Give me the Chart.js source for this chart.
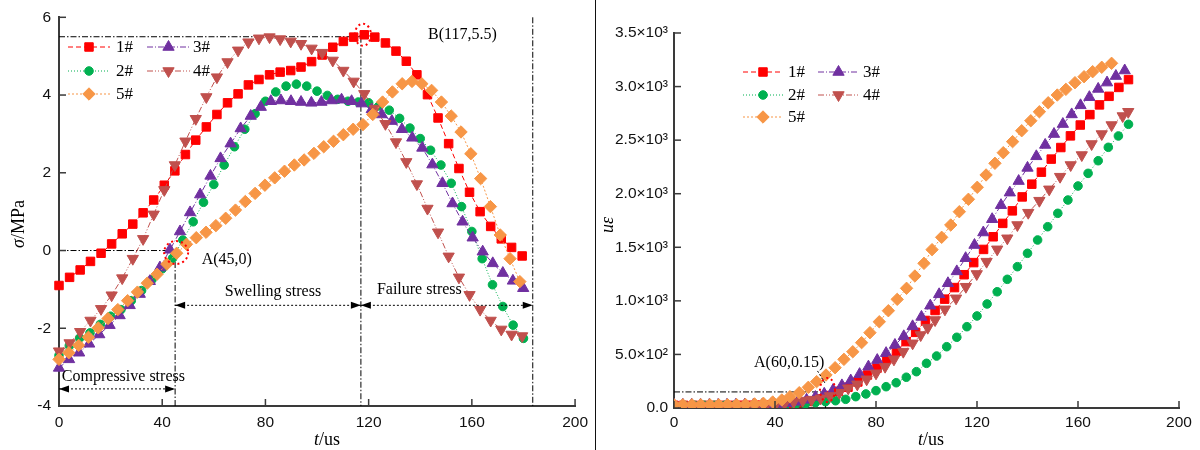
<!DOCTYPE html>
<html>
<head>
<meta charset="utf-8">
<script src="https://cdn.jsdelivr.net/npm/chart.js@4.4.1/dist/chart.umd.min.js"></script>
<style>
  html, body { margin: 0; padding: 0; background: #fff; }
  #wrap { position: relative; width: 1200px; height: 450px; overflow: hidden; }
  #stressChart { position: absolute; left: 0; top: 0; }
  #strainChart { position: absolute; left: 598px; top: 0; }
  #sep { position: absolute; left: 595px; top: 0; width: 1px; height: 450px; background: #111; }
</style>
</head>
<body>
<div id="wrap">
  <canvas id="stressChart" width="595" height="450"></canvas>
  <div id="sep"></div>
  <canvas id="strainChart" width="602" height="450"></canvas>
</div>
<script>
const seriesNames = ['1#', '2#', '3#', '4#', '5#'];

// left panel: stress sigma (MPa) against time t (us)
const tStressA = [0, 4.1, 8.2, 12.2, 16.3, 20.4, 24.5, 28.6, 32.6, 36.7, 40.8, 44.9, 49, 53, 57.1, 61.2, 65.3, 69.4, 73.4, 77.5, 81.6, 85.7, 89.8, 93.8, 97.9, 102, 106.1, 110.2, 114.2, 118.3, 122.4, 126.5, 130.6, 134.6, 138.7, 142.8, 146.9, 151, 155, 159.1, 163.2, 167.3, 171.4, 175.4, 179.5];
const tStress2 = [0, 4, 8, 12, 16, 20, 24, 28, 32, 36, 40, 44, 48, 52, 56, 60, 64, 68, 72, 76, 80, 84, 88, 92, 96, 100, 104, 108, 112, 116, 120, 124, 128, 132, 136, 140, 144, 148, 152, 156, 160, 164, 168, 172, 176, 180];
const tStress3 = [0, 3.9, 7.8, 11.7, 15.6, 19.6, 23.5, 27.4, 31.3, 35.2, 39.1, 43, 46.9, 50.8, 54.7, 58.7, 62.6, 66.5, 70.4, 74.3, 78.2, 82.1, 86, 89.9, 93.8, 97.8, 101.7, 105.6, 109.5, 113.4, 117.3, 121.2, 125.1, 129, 132.9, 136.9, 140.8, 144.7, 148.6, 152.5, 156.4, 160.3, 164.2, 168.1, 172, 175.9, 179.9];
const tStress5 = [0, 3.8, 7.6, 11.4, 15.2, 19, 22.8, 26.6, 30.4, 34.2, 38, 41.8, 45.6, 49.4, 53.2, 57, 60.8, 64.6, 68.4, 72.2, 76, 79.8, 83.6, 87.4, 91.2, 95, 98.8, 102.6, 106.4, 110.2, 114, 117.8, 121.6, 125.4, 129.2, 133, 136.8, 140.6, 144.4, 148.2, 152, 155.8, 159.6, 163.4, 167.2, 171, 174.8, 178.6];

const stress1 = [-0.9, -0.69, -0.5, -0.28, -0.07, 0.17, 0.43, 0.68, 0.97, 1.3, 1.68, 2.05, 2.47, 2.84, 3.18, 3.5, 3.8, 4.03, 4.26, 4.4, 4.52, 4.59, 4.63, 4.72, 4.86, 5.03, 5.23, 5.38, 5.49, 5.55, 5.49, 5.34, 5.13, 4.87, 4.52, 4.01, 3.41, 2.75, 2.11, 1.5, 1.0, 0.62, 0.3, 0.08, -0.14];
const stress2 = [-2.7, -2.45, -2.25, -2.12, -1.9, -1.69, -1.52, -1.29, -1.03, -0.75, -0.47, -0.2, 0.27, 0.74, 1.24, 1.7, 2.2, 2.67, 3.12, 3.52, 3.84, 4.08, 4.23, 4.28, 4.23, 4.1, 3.99, 3.89, 3.84, 3.82, 3.8, 3.72, 3.61, 3.4, 3.15, 2.88, 2.58, 2.2, 1.73, 1.13, 0.49, -0.21, -0.88, -1.44, -1.92, -2.26];
const stress3 = [-3.02, -2.8, -2.63, -2.4, -2.16, -1.92, -1.67, -1.41, -1.12, -0.79, -0.44, 0.02, 0.49, 0.98, 1.44, 1.92, 2.37, 2.75, 3.14, 3.46, 3.69, 3.84, 3.86, 3.84, 3.82, 3.8, 3.82, 3.86, 3.88, 3.84, 3.78, 3.63, 3.5, 3.33, 3.12, 2.9, 2.64, 2.21, 1.73, 1.21, 0.74, 0.33, -0.03, -0.33, -0.58, -0.78, -0.97];
const stress4 = [-2.59, -2.38, -2.09, -1.8, -1.5, -1.15, -0.71, -0.21, 0.3, 0.93, 1.56, 2.2, 2.81, 3.39, 3.95, 4.46, 4.85, 5.15, 5.36, 5.46, 5.49, 5.44, 5.38, 5.32, 5.2, 5.09, 4.89, 4.63, 4.35, 4.03, 3.65, 3.26, 2.79, 2.28, 1.71, 1.08, 0.47, -0.15, -0.69, -1.14, -1.52, -1.8, -2.03, -2.16, -2.2];
const stress5 = [-2.8, -2.63, -2.44, -2.23, -1.99, -1.75, -1.52, -1.29, -1.07, -0.84, -0.61, -0.35, -0.07, 0.16, 0.33, 0.47, 0.64, 0.83, 1.04, 1.26, 1.47, 1.68, 1.87, 2.04, 2.2, 2.33, 2.5, 2.67, 2.81, 2.98, 3.12, 3.24, 3.5, 3.82, 4.08, 4.29, 4.35, 4.29, 4.12, 3.82, 3.46, 3.05, 2.49, 1.85, 1.13, 0.4, -0.21, -0.8];

// right panel: strain (micro-strain) against time t (us)
const tStrain1 = [0, 3.8, 7.7, 11.5, 15.3, 19.1, 23, 26.8, 30.6, 34.5, 38.3, 42.1, 46, 49.8, 53.6, 57.4, 61.3, 65.1, 68.9, 72.8, 76.6, 80.4, 84.3, 88.1, 91.9, 95.7, 99.6, 103.4, 107.2, 111.1, 114.9, 118.7, 122.6, 126.4, 130.2, 134, 137.9, 141.7, 145.5, 149.4, 153.2, 157, 160.9, 164.7, 168.5, 172.3, 176.2, 180];
const tStrain2 = [0, 4, 8, 12, 16, 20, 24, 28, 32, 36, 40, 44, 48, 52, 56, 60, 64, 68, 72, 76, 80, 84, 88, 92, 96, 100, 104, 108, 112, 116, 120, 124, 128, 132, 136, 140, 144, 148, 152, 156, 160, 164, 168, 172, 176, 180];
const tStrain3 = [0, 3.5, 7, 10.5, 14, 17.5, 21, 24.5, 28, 31.5, 35, 38.5, 42, 45.5, 49, 52.5, 56, 59.5, 63, 66.5, 70, 73.5, 77, 80.5, 84, 87.5, 91, 94.5, 98, 101.5, 105, 108.5, 112, 115.5, 119, 122.5, 126, 129.5, 133, 136.5, 140, 143.5, 147, 150.5, 154, 157.5, 161, 164.5, 168, 171.5, 175, 178.5];
const tStrain4 = [0.6, 4.2, 7.8, 11.4, 15, 18.6, 22.2, 25.8, 29.4, 33, 36.6, 40.2, 43.8, 47.4, 51, 54.5, 58.1, 61.8, 65.5, 69, 72.6, 76.3, 80, 83.6, 87.1, 90.8, 94.5, 97.7, 100.5, 103.4, 107.3, 111.7, 115.6, 119.9, 123.8, 128, 132, 136, 140.3, 144.7, 148.6, 152.9, 157.1, 161.5, 165.4, 169.4, 173.3, 177.7, 179.9];
const tStrain5 = [0, 3.5, 7.1, 10.6, 14.2, 17.7, 21.2, 24.8, 28.3, 31.9, 35.4, 39.1, 42.7, 45.9, 49.6, 53.2, 56.5, 60.2, 63.8, 67.3, 70.8, 74.3, 77.6, 81.3, 84.9, 88.4, 92.1, 95.4, 99, 102.2, 106, 109.6, 113, 116.6, 120.1, 123.6, 127.1, 130.4, 134.1, 137.7, 141.3, 144.7, 148.2, 151.8, 155.2, 158.8, 162.4, 165.8, 169.4, 173.3];

const strain1 = [25, 25, 25, 25, 25, 25, 25, 26, 26, 27, 28, 32, 40, 50, 61, 84, 116, 156, 194, 243, 308, 372, 456, 530, 619, 706, 817, 910, 1016, 1124, 1244, 1357, 1480, 1598, 1723, 1840, 1970, 2089, 2201, 2323, 2431, 2540, 2641, 2738, 2829, 2909, 2992, 3065];
const strain2 = [25, 25, 25, 25, 25, 25, 25, 25, 25, 26, 27, 28, 30, 37, 50, 59, 68, 81, 106, 131, 162, 199, 236, 287, 339, 417, 485, 572, 660, 759, 859, 971, 1085, 1201, 1319, 1444, 1568, 1692, 1817, 1941, 2072, 2190, 2308, 2433, 2539, 2648];
const strain3 = [30, 30, 30, 30, 30, 30, 30, 30, 30, 32, 33, 35, 38, 45, 58, 76, 102, 132, 167, 211, 256, 316, 386, 447, 512, 588, 669, 762, 850, 955, 1061, 1164, 1275, 1398, 1521, 1638, 1762, 1893, 2010, 2118, 2241, 2349, 2455, 2557, 2650, 2740, 2825, 2901, 2978, 3037, 3098, 3150];
const strain4 = [25, 25, 25, 25, 25, 25, 25, 25, 25, 26, 28, 32, 42, 58, 70, 78, 90, 112, 143, 184, 221, 268, 324, 386, 454, 526, 604, 681, 750, 821, 921, 1024, 1132, 1251, 1366, 1481, 1584, 1708, 1823, 1935, 2041, 2159, 2268, 2361, 2464, 2557, 2641, 2725, 2765];
const strain5 = [30, 30, 30, 30, 30, 30, 30, 31, 33, 38, 44, 56, 75, 106, 143, 193, 246, 308, 376, 454, 525, 610, 703, 805, 908, 1014, 1117, 1232, 1350, 1478, 1593, 1708, 1832, 1948, 2060, 2175, 2284, 2383, 2486, 2588, 2681, 2765, 2849, 2921, 2974, 3036, 3092, 3139, 3180, 3217];

const strainTicks = [0, 500, 1000, 1500, 2000, 2500, 3000, 3500];
const strainTickLabels = ['0.0', '5.0×10²', '1.0×10³', '1.5×10³', '2.0×10³', '2.5×10³', '3.0×10³', '3.5×10³'];

// marked points, as written in their labels
const pointA = { t: 45, s: 0 };
const pointB = { t: 117, s: 5.5 };
const failureEnd = 183.6;
const strainA = { t: 60, v: 150 };

const colors = ['#ff0000', '#00b050', '#7030a0', '#c0504d', '#f79646'];
const pointStyles = ['rect', 'circle', 'triangle', 'triangle', 'rectRot'];
const pointRotations = [0, 0, 0, 180, 0];
const pointRadii = [6, 4.3, 6.5, 6.5, 6.2];
const lineDashes = [[5, 3], [1, 2], [6, 2, 1, 2], [6, 2, 1, 2, 1, 2], [2, 2]];

const serif = '"Liberation Serif", "Times New Roman", Times, serif';
const tickFont = { family: '"Liberation Sans", Arial, Helvetica, sans-serif', size: 15.5 };
const axisColor = '#3a3a3a';

function makeDatasets(tList, yList, clip) {
  return yList.map((ys, i) => ({
    label: seriesNames[i],
    data: ys.map((v, k) => ({ x: tList[i][k], y: v })),
    borderColor: colors[i],
    borderWidth: 1,
    borderDash: lineDashes[i],
    backgroundColor: colors[i],
    pointStyle: pointStyles[i],
    pointRotation: pointRotations[i],
    pointRadius: pointRadii[i],
    pointBackgroundColor: colors[i],
    pointBorderColor: colors[i],
    pointBorderWidth: 1,
    tension: 0,
    order: 5 - i,
    clip: clip
  }));
}

// axis titles with an italic symbol followed by upright units
function drawRuns(ctx, runs, cx, cy, size) {
  const fonts = runs.map(r => (r[1] ? 'italic ' : '') + size + 'px ' + serif);
  let total = 0;
  const widths = runs.map((r, k) => {
    ctx.font = fonts[k];
    const w = ctx.measureText(r[0]).width;
    total += w;
    return w;
  });
  let x = cx - total / 2;
  ctx.textAlign = 'left';
  ctx.textBaseline = 'middle';
  runs.forEach((r, k) => {
    ctx.font = fonts[k];
    ctx.fillText(r[0], x, cy);
    x += widths[k];
  });
}

const axisTitles = {
  id: 'axisTitles',
  afterDraw(chart, args, opts) {
    const ctx = chart.ctx;
    ctx.save();
    ctx.fillStyle = '#000';
    drawRuns(ctx, opts.x.runs, opts.x.cx, opts.x.cy, 18);
    ctx.translate(opts.y.cx, opts.y.cy);
    ctx.rotate(-Math.PI / 2);
    drawRuns(ctx, opts.y.runs, 0, 0, 18);
    ctx.restore();
  }
};

// tick marks pointing into the plot
const innerTicks = {
  id: 'innerTicks',
  afterDraw(chart) {
    const { ctx, scales: { x, y }, chartArea: area } = chart;
    ctx.save();
    ctx.strokeStyle = axisColor;
    ctx.lineWidth = 1.5;
    x.ticks.forEach(t => {
      const px = x.getPixelForValue(t.value);
      ctx.beginPath();
      ctx.moveTo(px, area.bottom);
      ctx.lineTo(px, area.bottom - 7);
      ctx.stroke();
    });
    y.ticks.forEach(t => {
      const py = y.getPixelForValue(t.value);
      ctx.beginPath();
      ctx.moveTo(area.left, py);
      ctx.lineTo(area.left + 7, py);
      ctx.stroke();
    });
    ctx.restore();
  }
};

const seriesLegend = {
  id: 'seriesLegend',
  afterDraw(chart, args, opts) {
    const ctx = chart.ctx;
    ctx.save();
    opts.columns.forEach(col => {
      col.series.forEach((si, r) => {
        const y = opts.rows[r];
        ctx.strokeStyle = colors[si];
        ctx.lineWidth = 1;
        ctx.setLineDash(lineDashes[si]);
        ctx.beginPath();
        ctx.moveTo(col.x0, y);
        ctx.lineTo(col.x1, y);
        ctx.stroke();
        ctx.setLineDash([]);
        ctx.fillStyle = colors[si];
        Chart.helpers.drawPoint(ctx, {
          pointStyle: pointStyles[si], radius: pointRadii[si],
          rotation: pointRotations[si], borderWidth: 1
        }, (col.x0 + col.x1) / 2, y);
        ctx.fillStyle = '#000';
        ctx.font = '17px ' + serif;
        ctx.textAlign = 'left';
        ctx.textBaseline = 'middle';
        ctx.fillText(seriesNames[si], col.tx, y + 1);
      });
    });
    ctx.restore();
  }
};

function line(ctx, x1, y1, x2, y2) {
  ctx.beginPath();
  ctx.moveTo(x1, y1);
  ctx.lineTo(x2, y2);
  ctx.stroke();
}

function dottedRing(ctx, cx, cy, rx, ry) {
  ctx.save();
  ctx.strokeStyle = '#ff0000';
  ctx.lineWidth = 2;
  ctx.setLineDash([2, 3]);
  ctx.beginPath();
  ctx.ellipse(cx, cy, rx, ry, 0, 0, Math.PI * 2);
  ctx.stroke();
  ctx.restore();
}

// dir 1: tip at x pointing left, dir -1: tip at x pointing right
function head(ctx, x, y, dir) {
  ctx.beginPath();
  ctx.moveTo(x, y);
  ctx.lineTo(x + dir * 10, y - 3.5);
  ctx.lineTo(x + dir * 10, y + 3.5);
  ctx.closePath();
  ctx.fill();
}

function spanArrow(ctx, x1, x2, y) {
  ctx.save();
  ctx.strokeStyle = '#000';
  ctx.fillStyle = '#000';
  ctx.lineWidth = 1;
  ctx.setLineDash([2, 2]);
  line(ctx, x1, y, x2, y);
  ctx.setLineDash([]);
  head(ctx, x1, y, 1);
  head(ctx, x2, y, -1);
  ctx.restore();
}

function note(ctx, text, x, y) {
  ctx.fillStyle = '#000';
  ctx.font = '16px ' + serif;
  ctx.textAlign = 'left';
  ctx.textBaseline = 'middle';
  ctx.fillText(text, x, y);
}

const stressNotes = {
  id: 'stressNotes',
  beforeDatasetsDraw(chart) {
    const { ctx, scales: { x, y } } = chart;
    ctx.save();
    ctx.strokeStyle = '#000';
    ctx.lineWidth = 1;
    ctx.setLineDash([6, 2, 1.5, 2]);
    line(ctx, x.getPixelForValue(0), y.getPixelForValue(pointB.s), x.getPixelForValue(pointB.t), y.getPixelForValue(pointB.s));
    line(ctx, x.getPixelForValue(pointB.t), y.getPixelForValue(pointB.s), x.getPixelForValue(pointB.t), y.getPixelForValue(-4));
    line(ctx, x.getPixelForValue(0), y.getPixelForValue(pointA.s), x.getPixelForValue(pointA.t), y.getPixelForValue(pointA.s));
    line(ctx, x.getPixelForValue(pointA.t), y.getPixelForValue(pointA.s), x.getPixelForValue(pointA.t), y.getPixelForValue(-4));
    line(ctx, x.getPixelForValue(failureEnd), y.getPixelForValue(6), x.getPixelForValue(failureEnd), y.getPixelForValue(-4));
    ctx.restore();
  },
  afterDatasetsDraw(chart) {
    const { ctx, scales: { x, y } } = chart;
    const ax = x.getPixelForValue(pointA.t), bx = x.getPixelForValue(pointB.t);
    ctx.save();
    dottedRing(ctx, ax + 1, y.getPixelForValue(pointA.s) + 2, 12, 11.5);
    dottedRing(ctx, bx + 2, y.getPixelForValue(pointB.s) - 2, 8, 11);
    spanArrow(ctx, x.getPixelForValue(0), ax, y.getPixelForValue(-3.56));
    spanArrow(ctx, ax, bx, y.getPixelForValue(-1.41));
    spanArrow(ctx, bx, x.getPixelForValue(failureEnd), y.getPixelForValue(-1.41));
    note(ctx, 'A(45,0)', x.getPixelForValue(55.3), y.getPixelForValue(-0.23));
    note(ctx, 'B(117,5.5)', x.getPixelForValue(143), y.getPixelForValue(5.54));
    note(ctx, 'Swelling stress', x.getPixelForValue(64.2), y.getPixelForValue(-1.07));
    note(ctx, 'Failure stress', x.getPixelForValue(123.2), y.getPixelForValue(-1.0));
    note(ctx, 'Compressive stress', x.getPixelForValue(1.1), y.getPixelForValue(-3.26));
    ctx.restore();
  }
};

const strainNotes = {
  id: 'strainNotes',
  beforeDatasetsDraw(chart) {
    const { ctx, scales: { x, y } } = chart;
    const px = x.getPixelForValue(strainA.t), py = y.getPixelForValue(strainA.v);
    ctx.save();
    ctx.strokeStyle = '#000';
    ctx.lineWidth = 1;
    ctx.setLineDash([6, 2, 1.5, 2]);
    line(ctx, x.getPixelForValue(0), py, px, py);
    line(ctx, px, py, px, y.getPixelForValue(0));
    ctx.restore();
  },
  afterDatasetsDraw(chart) {
    const { ctx, scales: { x, y } } = chart;
    const px = x.getPixelForValue(strainA.t), py = y.getPixelForValue(strainA.v);
    ctx.save();
    dottedRing(ctx, px + 2, py - 2, 7.5, 12);
    ctx.strokeStyle = '#000';
    ctx.lineWidth = 1;
    ctx.setLineDash([2, 2]);
    line(ctx, px - 8, py - 21, px, py - 8);
    note(ctx, 'A(60,0.15)', x.getPixelForValue(31.7), y.getPixelForValue(425));
    ctx.restore();
  }
};

function scaleOpts(min, max, step, padding, fit) {
  return {
    type: 'linear', min: min, max: max,
    ticks: { stepSize: step, padding: padding, color: '#111', font: tickFont, maxRotation: 0 },
    grid: { display: false, drawTicks: false },
    border: { display: true, color: axisColor, width: 2 },
    afterFit: fit
  };
}

Chart.defaults.animation = false;

new Chart(document.getElementById('stressChart'), {
  type: 'line',
  data: {
    datasets: makeDatasets(
      [tStressA, tStress2, tStress3, tStressA, tStress5],
      [stress1, stress2, stress3, stress4, stress5], false)
  },
  options: {
    responsive: false,
    devicePixelRatio: 1,
    layout: { autoPadding: false, padding: { top: 16, right: 12, left: 0, bottom: 0 } },
    plugins: {
      legend: { display: false },
      tooltip: { enabled: false },
      axisTitles: {
        x: { runs: [['t', true], ['/us', false]], cx: 327, cy: 440 },
        y: { runs: [['σ', true], ['/MPa', false]], cx: 19, cy: 224 }
      },
      seriesLegend: {
        rows: [47, 71, 94],
        columns: [
          { x0: 68, x1: 110, tx: 116, series: [0, 1, 4] },
          { x0: 147, x1: 190, tx: 193, series: [2, 3] }
        ]
      }
    },
    scales: {
      x: scaleOpts(0, 200, 40, 7, s => { s.height = 44; }),
      y: scaleOpts(-4, 6, 2, 8, s => { s.width = 59; })
    }
  },
  plugins: [stressNotes, innerTicks, axisTitles, seriesLegend]
});

const strainY = scaleOpts(0, 3500, 500, 6, s => { s.width = 76; });
strainY.ticks.callback = v => strainTickLabels[strainTicks.indexOf(v)];

new Chart(document.getElementById('strainChart'), {
  type: 'line',
  data: {
    datasets: makeDatasets(
      [tStrain1, tStrain2, tStrain3, tStrain4, tStrain5],
      [strain1, strain2, strain3, strain4, strain5], undefined)
  },
  options: {
    responsive: false,
    devicePixelRatio: 1,
    layout: { autoPadding: false, padding: { top: 33, right: 21, left: 0, bottom: 0 } },
    plugins: {
      legend: { display: false },
      tooltip: { enabled: false },
      axisTitles: {
        x: { runs: [['t', true], ['/us', false]], cx: 333, cy: 440 },
        y: { runs: [['uε', true]], cx: 10, cy: 225 }
      },
      seriesLegend: {
        rows: [72, 95, 117],
        columns: [
          { x0: 145, x1: 185, tx: 190, series: [0, 1, 4] },
          { x0: 220, x1: 261, tx: 265, series: [2, 3] }
        ]
      }
    },
    scales: {
      x: scaleOpts(0, 200, 40, 5, s => { s.height = 42; }),
      y: strainY
    }
  },
  plugins: [strainNotes, innerTicks, axisTitles, seriesLegend]
});
</script>
</body>
</html>
